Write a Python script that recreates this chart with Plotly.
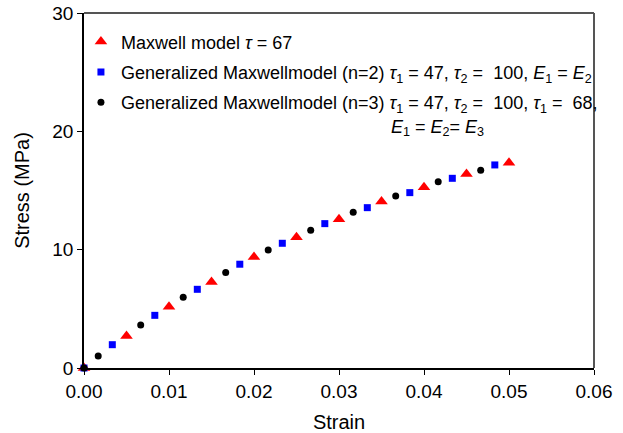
import plotly.graph_objects as go

# Maxwell model (triangles)
maxwell_strain = [0.0, 0.005, 0.010, 0.015, 0.020, 0.025, 0.030, 0.035, 0.040, 0.045, 0.050]
maxwell_stress = [0.0, 2.70, 5.18, 7.27, 9.38, 11.05, 12.57, 14.06, 15.27, 16.40, 17.35]

# Generalized Maxwell model n=2 (squares)
gm2_strain = [0.0, 0.00333, 0.00833, 0.01333, 0.01833, 0.02333, 0.02833, 0.03333, 0.03833, 0.04333, 0.04833]
gm2_stress = [0.0, 1.97, 4.45, 6.65, 8.77, 10.54, 12.20, 13.55, 14.82, 16.03, 17.16]

# Generalized Maxwell model n=3 (circles)
gm3_strain = [0.0, 0.00167, 0.00667, 0.01167, 0.01667, 0.02167, 0.02667, 0.03167, 0.03667, 0.04167, 0.04667]
gm3_stress = [0.0, 1.01, 3.63, 5.97, 8.06, 9.97, 11.64, 13.16, 14.54, 15.75, 16.71]

x_ticks = [0.00, 0.01, 0.02, 0.03, 0.04, 0.05, 0.06]
x_ticklabels = ["0.00", "0.01", "0.02", "0.03", "0.04", "0.05", "0.06"]
y_ticks = [0, 10, 20, 30]

NB = "\u00a0"
name1 = "Maxwell model <i>τ</i> = 67"
name2 = ("Generalized Maxwellmodel (n=2) <i>τ</i><sub>1</sub> = 47, <i>τ</i><sub>2</sub> =  100, "
         "<i>E</i><sub>1</sub> = <i>E</i><sub>2</sub>")
name3 = ("Generalized Maxwellmodel (n=3) <i>τ</i><sub>1</sub> = 47, <i>τ</i><sub>2</sub> =  100, "
         "<i>τ</i><sub>1</sub> =  68,<br>" + NB * 54 +
         "<i>E</i><sub>1</sub> = <i>E</i><sub>2</sub>= <i>E</i><sub>3</sub>")

FONT = "Liberation Sans, Arial, Helvetica, sans-serif"

fig = go.Figure()
fig.add_trace(go.Scatter(x=maxwell_strain, y=maxwell_stress, mode="markers", name=name1,
                         legendgroup="g1", cliponaxis=False,
                         marker=dict(symbol="triangle-up", size=11, color="#ff0000")))
fig.add_trace(go.Scatter(x=gm2_strain, y=gm2_stress, mode="markers", name=name2,
                         legendgroup="g2", cliponaxis=False,
                         marker=dict(symbol="square", size=7, color="#0000ff")))
fig.add_trace(go.Scatter(x=gm3_strain, y=gm3_stress, mode="markers", name=name3,
                         legendgroup="g3", cliponaxis=False,
                         marker=dict(symbol="circle", size=7, color="#000000")))

fig.update_layout(
    width=623, height=433,
    margin=dict(l=84, r=29, t=13, b=65),
    paper_bgcolor="white", plot_bgcolor="white",
    font=dict(family=FONT, size=19, color="black"),
    showlegend=True,
    legend=dict(x=-0.006, y=0.971, xanchor="left", yanchor="top",
                bgcolor="rgba(0,0,0,0)", font=dict(size=18), valign="top",
                tracegroupgap=4, itemwidth=30),
    xaxis=dict(range=[0, 0.06], tickvals=x_ticks, ticktext=x_ticklabels, automargin=False,
               showgrid=False, zeroline=False, showline=True, linecolor="black", linewidth=1.5,
               ticks="outside", ticklen=5, tickcolor="black",
               title=dict(text="Strain", font=dict(size=20), standoff=14)),
    yaxis=dict(range=[0, 30], tickvals=y_ticks, automargin=False,
               showgrid=False, zeroline=False, showline=True, linecolor="black", linewidth=1.5,
               ticks="outside", ticklen=5, tickcolor="black",
               title=dict(text="Stress (MPa)", font=dict(size=20), standoff=17)),
    shapes=[
        dict(type="line", xref="paper", yref="paper", x0=0, x1=1, y0=1, y1=1,
             line=dict(color="#555555", width=2)),
        dict(type="line", xref="paper", yref="paper", x0=1, x1=1, y0=0, y1=1,
             line=dict(color="#555555", width=2)),
    ],
)

fig.write_html("out.html")
